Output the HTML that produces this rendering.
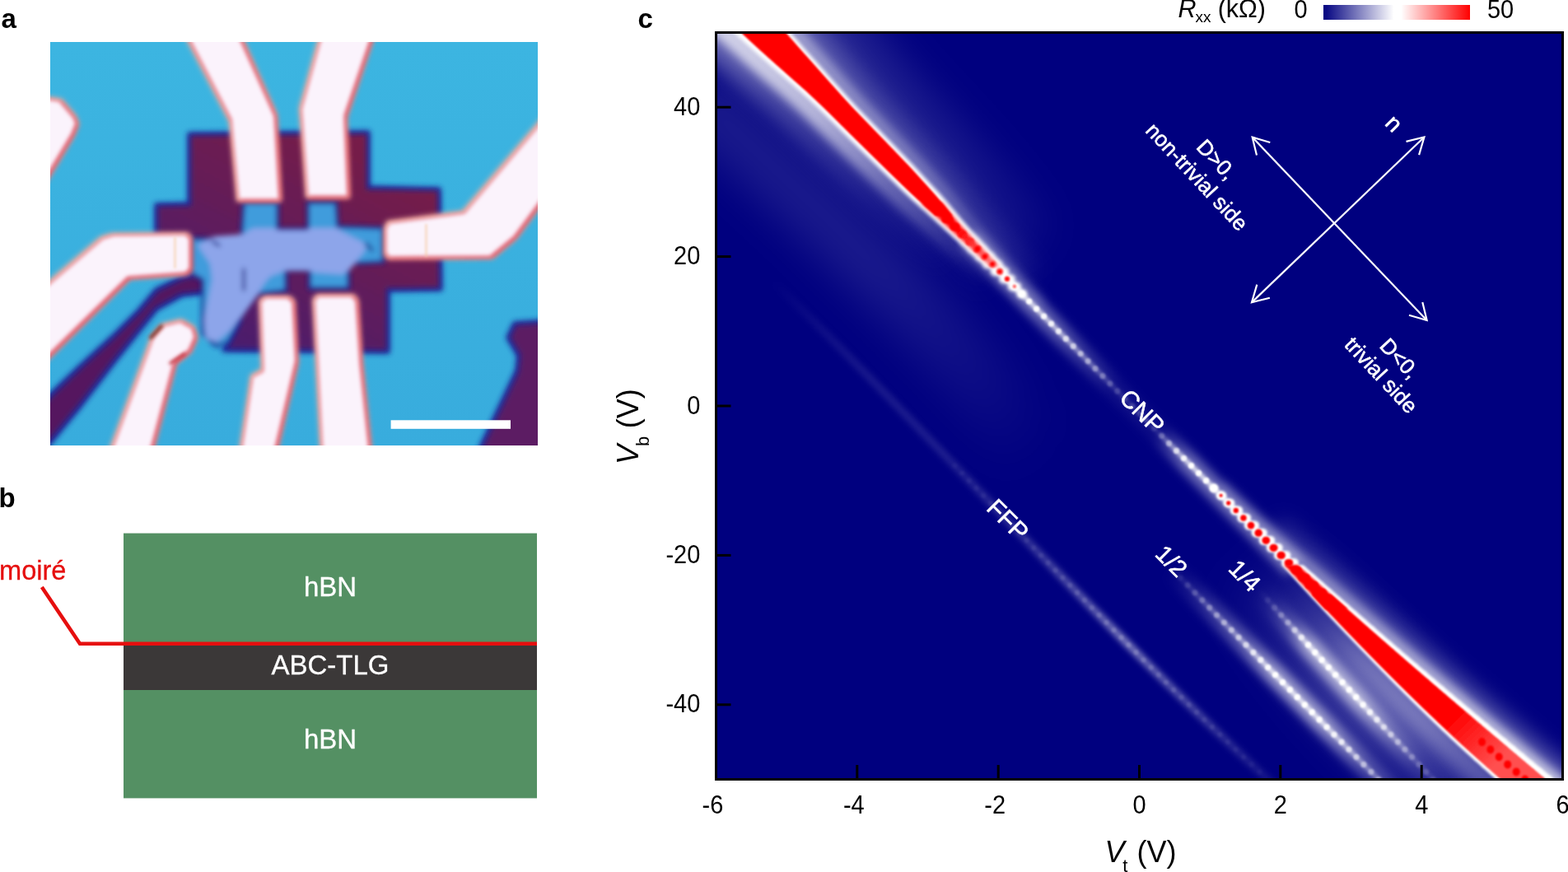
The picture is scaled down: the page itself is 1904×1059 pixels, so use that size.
<!DOCTYPE html>
<html lang="en"><head><meta charset="utf-8"><title>Figure</title>
<style>
html,body{margin:0;padding:0;background:#ffffff;}
body{width:1904px;height:1059px;overflow:hidden;position:relative;font-family:"Liberation Sans",Arial,Helvetica,sans-serif;}
svg{position:absolute;left:0;top:0;display:block;}
text{font-family:"Liberation Sans",Arial,Helvetica,sans-serif;}
.lab{font-weight:bold;font-size:33px;fill:#000;}
.tick{font-size:30.5px;fill:#000;}
.ax{font-size:36px;fill:#000;}
.w{fill:#fff;stroke:#fff;stroke-width:0.55px;text-anchor:middle;}
.s{font-size:33px;fill:#fff;stroke:#fff;stroke-width:0.3px;text-anchor:middle;}
</style></head>
<body>
<svg width="1904" height="1059" viewBox="0 0 1904 1059">
<defs>
<clipPath id="pc"><rect x="61" y="51" width="592" height="490"/></clipPath>
<clipPath id="hc"><rect x="870" y="40" width="1028" height="907"/></clipPath>
<filter id="b1" filterUnits="userSpaceOnUse" x="0" y="0" width="1904" height="1059"><feGaussianBlur stdDeviation="1"/></filter>
<filter id="b07" filterUnits="userSpaceOnUse" x="0" y="0" width="1904" height="1059"><feGaussianBlur stdDeviation="0.7"/></filter>
<filter id="b15" filterUnits="userSpaceOnUse" x="0" y="0" width="1904" height="1059"><feGaussianBlur stdDeviation="1.5"/></filter>
<filter id="b2" filterUnits="userSpaceOnUse" x="0" y="0" width="1904" height="1059"><feGaussianBlur stdDeviation="2.2"/></filter>
<filter id="b3" filterUnits="userSpaceOnUse" x="0" y="0" width="1904" height="1059"><feGaussianBlur stdDeviation="3.5"/></filter>
<filter id="b6" filterUnits="userSpaceOnUse" x="0" y="0" width="1904" height="1059"><feGaussianBlur stdDeviation="6"/></filter>
<filter id="b12" filterUnits="userSpaceOnUse" x="0" y="0" width="1904" height="1059"><feGaussianBlur stdDeviation="12"/></filter>
<filter id="b25" filterUnits="userSpaceOnUse" x="0" y="0" width="1904" height="1059"><feGaussianBlur stdDeviation="25"/></filter>
<linearGradient id="cb" x1="0" y1="0" x2="1" y2="0">
<stop offset="0" stop-color="#00007f"/><stop offset="0.48" stop-color="#ffffff"/><stop offset="0.53" stop-color="#ffffff"/><stop offset="1" stop-color="#ff0000"/>
</linearGradient>
</defs>

<text class="lab" x="1.5" y="33.8">a</text>
<text class="lab" x="-1.5" y="616">b</text>
<text class="lab" x="774.5" y="34">c</text>
<filter id="fE" filterUnits="userSpaceOnUse" x="0" y="0" width="720" height="600"><feMorphology operator="erode" radius="2.6"/><feGaussianBlur stdDeviation="2.6"/></filter>
<filter id="fP" filterUnits="userSpaceOnUse" x="0" y="0" width="720" height="600"><feGaussianBlur stdDeviation="3.3"/></filter>
<filter id="fQ" filterUnits="userSpaceOnUse" x="0" y="0" width="720" height="600"><feMorphology operator="erode" radius="2.4"/><feGaussianBlur stdDeviation="3.3"/></filter>
<linearGradient id="gP" gradientUnits="userSpaceOnUse" x1="420" y1="160" x2="280" y2="430"><stop offset="0" stop-color="#781b48"/><stop offset="0.5" stop-color="#631a5a"/><stop offset="1" stop-color="#4a1a70"/></linearGradient>
<linearGradient id="gBG" gradientUnits="userSpaceOnUse" x1="0" y1="51" x2="0" y2="541"><stop offset="0" stop-color="#3cb5e1"/><stop offset="1" stop-color="#38acdd"/></linearGradient>
<g clip-path="url(#pc)">
<rect x="61" y="51" width="592" height="490" fill="url(#gBG)"/>
<g filter="url(#fP)" fill="#1f2a9a" stroke="#1f2a9a" stroke-width="6" stroke-linejoin="round">
<polygon points="230.0,163.0 447.0,161.0 447.0,228.0 533.0,230.0 535.0,351.0 471.0,352.0 471.0,427.0 272.0,425.0 290.0,390.0 250.0,350.0 190.0,300.0 190.0,249.0 230.0,248.0"/>
<polygon points="45.0,497.0 61.0,480.0 96.5,446.0 138.0,408.0 169.0,377.0 190.0,352.0 221.0,337.0 254.0,332.0 258.0,354.0 221.0,358.0 190.0,375.0 169.0,401.0 138.0,440.0 96.5,494.0 61.0,537.0 45.0,556.0"/>
<polygon points="670.0,390.0 625.0,393.0 617.0,410.0 630.0,432.0 628.0,450.0 585.0,541.0 580.0,560.0 670.0,560.0"/>
</g>
<g filter="url(#fQ)">
<polygon points="230.0,163.0 447.0,161.0 447.0,228.0 533.0,230.0 535.0,351.0 471.0,352.0 471.0,427.0 272.0,425.0 290.0,390.0 250.0,350.0 190.0,300.0 190.0,249.0 230.0,248.0" fill="url(#gP)"/>
<polygon points="45.0,497.0 61.0,480.0 96.5,446.0 138.0,408.0 169.0,377.0 190.0,352.0 221.0,337.0 254.0,332.0 258.0,354.0 221.0,358.0 190.0,375.0 169.0,401.0 138.0,440.0 96.5,494.0 61.0,537.0 45.0,556.0" fill="#55195f"/>
<polygon points="670.0,390.0 625.0,393.0 617.0,410.0 630.0,432.0 628.0,450.0 585.0,541.0 580.0,560.0 670.0,560.0" fill="#5c1a64"/>
</g>
<g filter="url(#fP)">
<polygon points="296.0,246.0 337.0,246.0 337.0,278.0 374.0,278.0 374.0,246.0 408.0,246.0 410.0,275.0 465.0,277.0 465.0,318.0 423.0,320.0 423.0,350.0 376.0,350.0 376.0,328.0 347.0,328.0 347.0,353.0 312.0,357.0 298.0,376.0 276.0,416.0 262.0,420.0 246.0,405.0 246.0,340.0 232.0,332.0 232.0,290.0 293.0,290.0" fill="#3f9cdc" stroke="#1f2a9a" stroke-width="4"/>
<polygon points="241.4,297.9 261.0,288.0 295.4,285.6 307.7,278.2 332.0,278.0 337.0,280.7 374.0,280.7 376.5,278.0 408.4,278.0 415.8,283.0 440.3,295.4 442.8,302.8 425.6,324.9 415.8,332.3 381.4,329.8 376.5,327.3 347.0,327.3 327.3,334.7 317.5,347.0 312.6,356.8 297.9,376.5 278.2,401.0 263.5,413.3 251.2,410.9 248.8,388.8 253.7,364.4 258.6,339.6 256.1,320.0" fill="#8da5ea" stroke="#8da5ea" stroke-width="2" stroke-linejoin="round"/>
<path d="M296 327 L296 352 M445 296 L452 304 M258 293 L266 298" stroke="#1a2a8a" stroke-width="3.5" fill="none" stroke-linecap="round"/>
</g>
<g filter="url(#fP)" fill="#f3b9a6">
<polygon points="222.0,40.0 292.0,40.0 336.0,138.0 342.0,245.0 287.0,245.0 278.0,148.0"/>
<polygon points="388.0,40.0 456.0,40.0 421.0,143.0 425.0,241.0 371.0,241.0 363.0,131.0"/>
<polygon points="670.0,128.0 561.0,256.0 470.0,268.0 466.0,275.0 466.0,310.0 470.0,315.0 598.0,314.0 627.0,290.0 670.0,232.0"/>
<polygon points="50.0,348.0 122.0,287.0 135.0,283.0 228.0,282.0 233.0,287.0 233.0,329.0 228.0,334.0 158.0,339.0 50.0,445.0"/>
<polygon points="129.0,555.0 183.0,408.0 196.0,393.0 220.0,387.0 236.0,396.0 240.0,410.0 232.0,428.0 214.0,442.0 184.0,555.0"/>
<polygon points="314.0,364.0 320.0,359.0 352.0,359.0 358.0,364.0 362.0,440.0 335.0,555.0 289.0,555.0 304.0,455.0 317.0,448.0"/>
<polygon points="379.0,363.0 384.0,357.0 430.0,357.0 435.0,363.0 440.0,440.0 452.0,555.0 389.0,555.0 383.0,440.0"/>
<polygon points="50.0,116.0 75.0,120.0 92.0,140.0 96.0,150.0 90.0,165.0 50.0,232.0"/>
</g>
<g filter="url(#fQ)" fill="#d9364c" transform="translate(1.6,1.2)">
<polygon points="222.0,40.0 292.0,40.0 336.0,138.0 342.0,245.0 287.0,245.0 278.0,148.0"/>
<polygon points="388.0,40.0 456.0,40.0 421.0,143.0 425.0,241.0 371.0,241.0 363.0,131.0"/>
<polygon points="670.0,128.0 561.0,256.0 470.0,268.0 466.0,275.0 466.0,310.0 470.0,315.0 598.0,314.0 627.0,290.0 670.0,232.0"/>
<polygon points="50.0,348.0 122.0,287.0 135.0,283.0 228.0,282.0 233.0,287.0 233.0,329.0 228.0,334.0 158.0,339.0 50.0,445.0"/>
<polygon points="129.0,555.0 183.0,408.0 196.0,393.0 220.0,387.0 236.0,396.0 240.0,410.0 232.0,428.0 214.0,442.0 184.0,555.0"/>
<polygon points="314.0,364.0 320.0,359.0 352.0,359.0 358.0,364.0 362.0,440.0 335.0,555.0 289.0,555.0 304.0,455.0 317.0,448.0"/>
<polygon points="379.0,363.0 384.0,357.0 430.0,357.0 435.0,363.0 440.0,440.0 452.0,555.0 389.0,555.0 383.0,440.0"/>
<polygon points="50.0,116.0 75.0,120.0 92.0,140.0 96.0,150.0 90.0,165.0 50.0,232.0"/>
</g>
<g filter="url(#fE)" fill="#fbf3fc">
<polygon points="222.0,40.0 292.0,40.0 336.0,138.0 342.0,245.0 287.0,245.0 278.0,148.0"/>
<polygon points="388.0,40.0 456.0,40.0 421.0,143.0 425.0,241.0 371.0,241.0 363.0,131.0"/>
<polygon points="670.0,128.0 561.0,256.0 470.0,268.0 466.0,275.0 466.0,310.0 470.0,315.0 598.0,314.0 627.0,290.0 670.0,232.0"/>
<polygon points="50.0,348.0 122.0,287.0 135.0,283.0 228.0,282.0 233.0,287.0 233.0,329.0 228.0,334.0 158.0,339.0 50.0,445.0"/>
<polygon points="129.0,555.0 183.0,408.0 196.0,393.0 220.0,387.0 236.0,396.0 240.0,410.0 232.0,428.0 214.0,442.0 184.0,555.0"/>
<polygon points="314.0,364.0 320.0,359.0 352.0,359.0 358.0,364.0 362.0,440.0 335.0,555.0 289.0,555.0 304.0,455.0 317.0,448.0"/>
<polygon points="379.0,363.0 384.0,357.0 430.0,357.0 435.0,363.0 440.0,440.0 452.0,555.0 389.0,555.0 383.0,440.0"/>
<polygon points="50.0,116.0 75.0,120.0 92.0,140.0 96.0,150.0 90.0,165.0 50.0,232.0"/>
</g>
<path d="M517.5 272 L517.5 312 M212.5 288 L212.5 326" stroke="#f3c79a" stroke-width="2.2" stroke-opacity="0.7" fill="none" filter="url(#b15)"/>
<path d="M207 441 L224 430" stroke="#c2303c" stroke-width="3.5" fill="none" stroke-linecap="round" filter="url(#b2)"/><path d="M183 410 L196 396" stroke="#7a2a20" stroke-width="4" fill="none" stroke-linecap="round" filter="url(#b2)"/>
<rect x="474.6" y="510.3" width="145.4" height="10.5" fill="#ffffff"/>
</g>
<rect x="150" y="647.6" width="502" height="135" fill="#549063"/>
<rect x="150" y="838" width="502" height="131.4" fill="#549063"/>
<rect x="150" y="783.5" width="502" height="54.5" fill="#3b3838"/>
<polyline points="50.8,713 97,781.7 652,781.7" fill="none" stroke="#e60f0f" stroke-width="4.5" stroke-linejoin="miter"/>
<text class="s" x="401" y="724">hBN</text>
<text class="s" x="401" y="819.3">ABC-TLG</text>
<text class="s" x="401" y="909">hBN</text>
<text x="-1" y="704" font-size="32.6" fill="#e60f0f" stroke="#e60f0f" stroke-width="0.3">moiré</text>
<rect x="869.5" y="39.5" width="1028" height="907" fill="#00007f"/>
<g clip-path="url(#hc)">
<linearGradient id="gUL" gradientUnits="userSpaceOnUse" x1="879" y1="20" x2="1210" y2="330"><stop offset="0.000" stop-color="#fff" stop-opacity="0.74"/><stop offset="0.129" stop-color="#fff" stop-opacity="0.72"/><stop offset="0.360" stop-color="#fff" stop-opacity="0.62"/><stop offset="0.516" stop-color="#fff" stop-opacity="0.46"/><stop offset="0.643" stop-color="#fff" stop-opacity="0.3"/><stop offset="0.806" stop-color="#fff" stop-opacity="0.15"/><stop offset="1.000" stop-color="#fff" stop-opacity="0.0"/></linearGradient>
<linearGradient id="gUL2" gradientUnits="userSpaceOnUse" x1="879" y1="20" x2="1177" y2="300"><stop offset="0.000" stop-color="#fff" stop-opacity="0.42"/><stop offset="0.217" stop-color="#fff" stop-opacity="0.32"/><stop offset="0.468" stop-color="#fff" stop-opacity="0.2"/><stop offset="0.712" stop-color="#fff" stop-opacity="0.1"/><stop offset="1.000" stop-color="#fff" stop-opacity="0.0"/></linearGradient>
<linearGradient id="gUR" gradientUnits="userSpaceOnUse" x1="937" y1="20" x2="1236" y2="350"><stop offset="0.000" stop-color="#fff" stop-opacity="0.5"/><stop offset="0.331" stop-color="#fff" stop-opacity="0.38"/><stop offset="0.610" stop-color="#fff" stop-opacity="0.3"/><stop offset="0.849" stop-color="#fff" stop-opacity="0.2"/><stop offset="1.000" stop-color="#fff" stop-opacity="0.08"/></linearGradient>
<linearGradient id="gLH" gradientUnits="userSpaceOnUse" x1="1481" y1="600" x2="1866" y2="960"><stop offset="0.000" stop-color="#fff" stop-opacity="0.15"/><stop offset="0.270" stop-color="#fff" stop-opacity="0.4"/><stop offset="0.502" stop-color="#fff" stop-opacity="0.5"/><stop offset="0.712" stop-color="#fff" stop-opacity="0.6"/><stop offset="1.000" stop-color="#fff" stop-opacity="0.7"/></linearGradient>
<linearGradient id="gLL" gradientUnits="userSpaceOnUse" x1="1572" y1="690" x2="1866" y2="960"><stop offset="0.000" stop-color="#fff" stop-opacity="0"/><stop offset="0.180" stop-color="#fff" stop-opacity="0.1"/><stop offset="0.343" stop-color="#fff" stop-opacity="0.3"/><stop offset="0.620" stop-color="#fff" stop-opacity="0.4"/><stop offset="0.884" stop-color="#fff" stop-opacity="0.3"/><stop offset="1.000" stop-color="#fff" stop-opacity="0.25"/></linearGradient>
<linearGradient id="gLB" gradientUnits="userSpaceOnUse" x1="1505" y1="690" x2="1753" y2="960"><stop offset="0.000" stop-color="#fff" stop-opacity="0"/><stop offset="0.256" stop-color="#fff" stop-opacity="0.12"/><stop offset="0.477" stop-color="#fff" stop-opacity="0.24"/><stop offset="0.663" stop-color="#fff" stop-opacity="0.26"/><stop offset="0.850" stop-color="#fff" stop-opacity="0.16"/><stop offset="1.000" stop-color="#fff" stop-opacity="0.1"/></linearGradient>
<linearGradient id="gF" gradientUnits="userSpaceOnUse" x1="937" y1="340" x2="1554" y2="960"><stop offset="0.000" stop-color="#fff" stop-opacity="0"/><stop offset="0.098" stop-color="#fff" stop-opacity="0.06"/><stop offset="0.188" stop-color="#fff" stop-opacity="0.1"/><stop offset="0.376" stop-color="#fff" stop-opacity="0.13"/><stop offset="0.510" stop-color="#fff" stop-opacity="0.2"/><stop offset="0.639" stop-color="#fff" stop-opacity="0.38"/><stop offset="0.704" stop-color="#fff" stop-opacity="0.5"/><stop offset="0.768" stop-color="#fff" stop-opacity="0.38"/><stop offset="0.900" stop-color="#fff" stop-opacity="0.17"/><stop offset="1.000" stop-color="#fff" stop-opacity="0.06"/></linearGradient>
<linearGradient id="gH" gradientUnits="userSpaceOnUse" x1="1422" y1="690" x2="1687" y2="960"><stop offset="0.000" stop-color="#fff" stop-opacity="0"/><stop offset="0.092" stop-color="#fff" stop-opacity="0.15"/><stop offset="0.336" stop-color="#fff" stop-opacity="0.6"/><stop offset="0.473" stop-color="#fff" stop-opacity="1"/><stop offset="0.677" stop-color="#fff" stop-opacity="1"/><stop offset="0.777" stop-color="#fff" stop-opacity="0.75"/><stop offset="0.888" stop-color="#fff" stop-opacity="0.45"/><stop offset="1.000" stop-color="#fff" stop-opacity="0.3"/></linearGradient>
<linearGradient id="gQ" gradientUnits="userSpaceOnUse" x1="1527" y1="715" x2="1753" y2="960"><stop offset="0.000" stop-color="#fff" stop-opacity="0"/><stop offset="0.072" stop-color="#fff" stop-opacity="0.1"/><stop offset="0.181" stop-color="#fff" stop-opacity="0.4"/><stop offset="0.283" stop-color="#fff" stop-opacity="1"/><stop offset="0.547" stop-color="#fff" stop-opacity="1"/><stop offset="0.715" stop-color="#fff" stop-opacity="0.5"/><stop offset="0.876" stop-color="#fff" stop-opacity="0.15"/><stop offset="1.000" stop-color="#fff" stop-opacity="0.08"/></linearGradient>
<linearGradient id="gC" gradientUnits="userSpaceOnUse" x1="1185" y1="300" x2="1561" y2="680"><stop offset="0.000" stop-color="#fff" stop-opacity="1"/><stop offset="0.170" stop-color="#fff" stop-opacity="1"/><stop offset="0.262" stop-color="#fff" stop-opacity="0.8"/><stop offset="0.341" stop-color="#fff" stop-opacity="0.5"/><stop offset="0.393" stop-color="#fff" stop-opacity="0.35"/><stop offset="0.451" stop-color="#fff" stop-opacity="0.15"/><stop offset="0.590" stop-color="#fff" stop-opacity="0.12"/><stop offset="0.616" stop-color="#fff" stop-opacity="0.4"/><stop offset="0.651" stop-color="#fff" stop-opacity="0.7"/><stop offset="0.688" stop-color="#fff" stop-opacity="1"/><stop offset="1.000" stop-color="#fff" stop-opacity="1"/></linearGradient>
<linearGradient id="gB1" gradientUnits="userSpaceOnUse" x1="860" y1="130" x2="1260" y2="560"><stop offset="0" stop-color="#fff" stop-opacity="0.1"/><stop offset="0.5" stop-color="#fff" stop-opacity="0.1"/><stop offset="0.8" stop-color="#fff" stop-opacity="0.05"/><stop offset="1" stop-color="#fff" stop-opacity="0"/></linearGradient>
<path d="M840.0 110.0 L1000.0 260.0 L1100.0 360.0 L1180.0 450.0 L1260.0 560.0" fill="none" stroke="url(#gB1)" stroke-width="80" stroke-linecap="butt" stroke-linejoin="round" filter="url(#b25)"/>
<linearGradient id="gB2" gradientUnits="userSpaceOnUse" x1="940" y1="60" x2="1210" y2="360"><stop offset="0" stop-color="#fff" stop-opacity="0.1"/><stop offset="0.6" stop-color="#fff" stop-opacity="0.08"/><stop offset="1" stop-color="#fff" stop-opacity="0"/></linearGradient>
<path d="M940.0 60.0 L1080.0 200.0 L1160.0 300.0 L1210.0 360.0" fill="none" stroke="url(#gB2)" stroke-width="40" stroke-linecap="butt" stroke-linejoin="round" filter="url(#b12)"/>
<path d="M842.7 0.0 L855.4 12.0 L868.2 24.0 L880.9 36.0 L893.8 48.0 L906.8 60.0 L920.1 72.0 L933.6 84.0 L947.2 96.0 L960.7 108.0 L973.7 120.0 L986.2 132.0 L998.4 144.0 L1010.5 156.0 L1022.6 168.0 L1034.8 180.0 L1047.0 192.0 L1059.2 204.0 L1071.5 216.0 L1084.0 228.0 L1096.6 240.0 L1109.9 252.0 L1123.4 264.0 L1136.5 276.0 L1149.4 288.0 L1162.2 300.0 L1175.0 312.0 L1188.0 324.0 L1201.1 336.0 L1214.5 348.0 L1216.7 350.0" fill="none" stroke="url(#gUL)" stroke-width="28" stroke-linecap="butt" stroke-linejoin="round" filter="url(#b6)"/>
<path d="M819.7 0.0 L832.4 12.0 L845.2 24.0 L857.9 36.0 L870.8 48.0 L883.8 60.0 L897.1 72.0 L910.6 84.0 L924.2 96.0 L937.7 108.0 L950.7 120.0 L963.2 132.0 L975.4 144.0 L987.5 156.0 L999.6 168.0 L1011.8 180.0 L1024.0 192.0 L1036.2 204.0 L1048.5 216.0 L1061.0 228.0 L1073.6 240.0 L1086.9 252.0 L1100.4 264.0 L1113.5 276.0 L1126.4 288.0 L1139.2 300.0 L1152.0 312.0 L1160.7 320.0" fill="none" stroke="url(#gUL2)" stroke-width="44" stroke-linecap="butt" stroke-linejoin="round" filter="url(#b12)"/>
<path d="M929.4 0.0 L939.9 12.0 L950.4 24.0 L961.0 36.0 L971.6 48.0 L982.1 60.0 L992.9 72.0 L1003.6 84.0 L1014.2 96.0 L1024.9 108.0 L1035.7 120.0 L1046.8 132.0 L1058.4 144.0 L1070.0 156.0 L1081.6 168.0 L1093.2 180.0 L1104.7 192.0 L1116.1 204.0 L1127.1 216.0 L1138.0 228.0 L1148.7 240.0 L1158.5 252.0 L1168.2 264.0 L1178.4 276.0 L1189.7 288.0 L1201.2 300.0 L1212.7 312.0 L1223.7 324.0 L1234.3 336.0 L1244.5 348.0 L1254.5 360.0 L1262.8 370.0" fill="none" stroke="url(#gUR)" stroke-width="20" stroke-linecap="butt" stroke-linejoin="round" filter="url(#b6)"/>
<path d="M943.4 0.0 L953.9 12.0 L964.4 24.0 L975.0 36.0 L985.6 48.0 L996.1 60.0 L1006.9 72.0 L1017.6 84.0 L1028.2 96.0 L1038.9 108.0 L1049.7 120.0 L1060.8 132.0 L1072.4 144.0 L1084.0 156.0 L1095.6 168.0 L1107.2 180.0 L1118.7 192.0 L1130.1 204.0 L1141.1 216.0 L1152.0 228.0 L1162.7 240.0 L1172.5 252.0 L1182.2 264.0 L1192.4 276.0 L1203.7 288.0 L1215.2 300.0 L1226.7 312.0 L1237.7 324.0 L1248.3 336.0 L1251.7 340.0" fill="none" stroke="url(#gUR)" stroke-width="36" stroke-linecap="butt" stroke-linejoin="round" stroke-opacity="0.6" filter="url(#b12)"/>
<path d="M962.0 -20.0 L972.4 -8.0 L982.9 4.0 L993.4 16.0 L1003.9 28.0 L1014.6 40.0 L1025.1 52.0 L1035.7 64.0 L1046.5 76.0 L1057.1 88.0 L1067.7 100.0 L1078.5 112.0 L1089.3 124.0 L1100.6 136.0 L1112.2 148.0 L1123.9 160.0 L1135.5 172.0 L1147.0 184.0 L1158.6 196.0 L1169.8 208.0 L1180.7 220.0 L1191.6 232.0 L1202.1 244.0 L1211.8 256.0 L1221.5 268.0 L1232.1 280.0 L1243.5 292.0 L1251.2 300.0" fill="none" stroke="url(#gUR)" stroke-width="70" stroke-linecap="butt" stroke-linejoin="round" stroke-opacity="0.35" filter="url(#b25)"/>
<path d="M1481.4 590.0 L1494.2 602.0 L1506.9 614.0 L1519.8 626.0 L1532.6 638.0 L1545.5 650.0 L1558.5 662.0 L1571.4 674.0 L1584.7 686.0 L1598.1 698.0 L1611.6 710.0 L1625.2 722.0 L1638.8 734.0 L1652.4 746.0 L1666.0 758.0 L1679.7 770.0 L1693.4 782.0 L1707.2 794.0 L1721.0 806.0 L1734.9 818.0 L1748.8 830.0 L1762.8 842.0 L1776.8 854.0 L1790.9 866.0 L1805.0 878.0 L1819.2 890.0 L1833.5 902.0 L1847.6 914.0 L1861.8 926.0 L1876.1 938.0 L1890.5 950.0 L1905.0 962.0 L1919.5 974.0 L1934.3 986.0 L1939.2 990.0" fill="none" stroke="url(#gLH)" stroke-width="18" stroke-linecap="butt" stroke-linejoin="round" filter="url(#b6)"/>
<path d="M1547.8 640.0 L1560.7 652.0 L1573.6 664.0 L1586.6 676.0 L1599.9 688.0 L1613.4 700.0 L1626.9 712.0 L1640.4 724.0 L1654.1 736.0 L1667.7 748.0 L1681.3 760.0 L1694.9 772.0 L1708.7 784.0 L1722.5 796.0 L1736.3 808.0 L1750.2 820.0 L1764.1 832.0 L1778.1 844.0 L1792.2 856.0 L1806.3 868.0 L1820.4 880.0 L1834.6 892.0 L1848.8 904.0 L1863.0 916.0 L1877.2 928.0 L1891.5 940.0 L1905.9 952.0 L1920.4 964.0 L1935.0 976.0 L1949.7 988.0 L1952.2 990.0" fill="none" stroke="url(#gLH)" stroke-width="30" stroke-linecap="butt" stroke-linejoin="round" stroke-opacity="0.5" filter="url(#b12)"/>
<path d="M1536.9 680.0 L1548.0 692.0 L1559.1 704.0 L1570.2 716.0 L1581.4 728.0 L1592.6 740.0 L1604.1 752.0 L1615.5 764.0 L1627.1 776.0 L1638.8 788.0 L1650.5 800.0 L1662.3 812.0 L1674.3 824.0 L1686.4 836.0 L1698.6 848.0 L1710.9 860.0 L1723.5 872.0 L1736.1 884.0 L1748.9 896.0 L1762.0 908.0 L1775.3 920.0 L1788.8 932.0 L1802.4 944.0 L1816.3 956.0 L1830.3 968.0 L1844.5 980.0 L1856.4 990.0" fill="none" stroke="url(#gLL)" stroke-width="34" stroke-linecap="butt" stroke-linejoin="round" filter="url(#b12)"/>
<path d="M1507.2 670.0 L1517.8 682.0 L1528.4 694.0 L1539.1 706.0 L1549.8 718.0 L1560.5 730.0 L1571.2 742.0 L1582.0 754.0 L1592.9 766.0 L1603.7 778.0 L1614.7 790.0 L1625.6 802.0 L1636.6 814.0 L1647.6 826.0 L1658.6 838.0 L1669.7 850.0 L1680.9 862.0 L1692.0 874.0 L1703.2 886.0 L1714.5 898.0 L1725.7 910.0 L1737.1 922.0 L1748.4 934.0 L1759.8 946.0 L1771.2 958.0 L1782.7 970.0 L1794.2 982.0 L1801.9 990.0" fill="none" stroke="url(#gLB)" stroke-width="110" stroke-linecap="butt" stroke-linejoin="round" filter="url(#b25)"/>
<path d="M926.7 330.0 L932.9 336.0 L939.0 342.0 L945.2 348.0 L951.3 354.0 L957.4 360.0 L963.5 366.0 L969.6 372.0 L975.7 378.0 L981.7 384.0 L987.8 390.0 L993.8 396.0 L999.8 402.0 L1005.8 408.0 L1011.7 414.0 L1017.7 420.0 L1023.7 426.0 L1029.6 432.0 L1035.5 438.0 L1041.4 444.0 L1047.3 450.0 L1053.2 456.0 L1059.1 462.0 L1065.0 468.0 L1070.8 474.0 L1076.7 480.0 L1082.5 486.0 L1088.4 492.0 L1094.2 498.0 L1100.0 504.0 L1105.8 510.0 L1111.6 516.0 L1117.4 522.0 L1123.2 528.0 L1129.0 534.0 L1134.8 540.0 L1140.6 546.0 L1146.4 552.0 L1152.1 558.0 L1157.9 564.0 L1163.7 570.0 L1169.4 576.0 L1175.2 582.0 L1181.0 588.0 L1186.7 594.0 L1192.5 600.0 L1198.2 606.0 L1204.0 612.0 L1209.8 618.0 L1215.5 624.0 L1221.3 630.0 L1227.1 636.0 L1232.8 642.0 L1238.6 648.0 L1244.4 654.0 L1250.2 660.0 L1256.0 666.0 L1261.8 672.0 L1267.5 678.0 L1273.3 684.0 L1279.2 690.0 L1285.0 696.0 L1290.8 702.0 L1296.6 708.0 L1302.5 714.0 L1308.3 720.0 L1314.2 726.0 L1320.0 732.0 L1325.9 738.0 L1331.8 744.0 L1337.7 750.0 L1343.6 756.0 L1349.5 762.0 L1355.4 768.0 L1361.4 774.0 L1367.3 780.0 L1373.3 786.0 L1379.3 792.0 L1385.2 798.0 L1391.3 804.0 L1397.3 810.0 L1403.3 816.0 L1409.4 822.0 L1415.4 828.0 L1421.5 834.0 L1427.6 840.0 L1433.7 846.0 L1439.9 852.0 L1446.0 858.0 L1452.2 864.0 L1458.4 870.0 L1464.6 876.0 L1470.9 882.0 L1477.1 888.0 L1483.4 894.0 L1489.7 900.0 L1496.0 906.0 L1502.3 912.0 L1508.7 918.0 L1515.1 924.0 L1521.5 930.0 L1527.9 936.0 L1534.4 942.0 L1540.9 948.0 L1547.4 954.0 L1553.9 960.0 L1560.5 966.0 L1567.1 972.0 L1573.7 978.0 L1580.3 984.0 L1587.0 990.0" fill="none" stroke="url(#gF)" stroke-width="9" stroke-linecap="butt" stroke-linejoin="round" filter="url(#b3)"/>
<g filter="url(#b1)" fill="#fff"><circle cx="1159.4" cy="565.6" r="3.2" fill-opacity="0.04"/><circle cx="1168.1" cy="574.6" r="3.2" fill-opacity="0.05"/><circle cx="1176.8" cy="583.7" r="3.2" fill-opacity="0.05"/><circle cx="1185.5" cy="592.8" r="3.2" fill-opacity="0.05"/><circle cx="1194.2" cy="601.8" r="3.2" fill-opacity="0.05"/><circle cx="1203.0" cy="610.9" r="3.2" fill-opacity="0.06"/><circle cx="1211.7" cy="620.0" r="3.2" fill-opacity="0.06"/><circle cx="1220.4" cy="629.1" r="3.2" fill-opacity="0.06"/><circle cx="1229.1" cy="638.1" r="3.2" fill-opacity="0.06"/><circle cx="1237.8" cy="647.2" r="3.2" fill-opacity="0.07"/><circle cx="1246.6" cy="656.3" r="3.2" fill-opacity="0.07"/><circle cx="1255.3" cy="665.3" r="3.2" fill-opacity="0.07"/><circle cx="1264.1" cy="674.4" r="3.2" fill-opacity="0.08"/><circle cx="1272.8" cy="683.5" r="3.2" fill-opacity="0.09"/><circle cx="1281.6" cy="692.5" r="3.2" fill-opacity="0.10"/><circle cx="1290.4" cy="701.6" r="3.2" fill-opacity="0.10"/><circle cx="1299.2" cy="710.7" r="3.2" fill-opacity="0.11"/><circle cx="1308.1" cy="719.8" r="3.2" fill-opacity="0.12"/><circle cx="1316.9" cy="728.8" r="3.2" fill-opacity="0.12"/><circle cx="1325.8" cy="737.9" r="3.2" fill-opacity="0.13"/><circle cx="1334.7" cy="747.0" r="3.2" fill-opacity="0.14"/><circle cx="1343.6" cy="756.0" r="3.2" fill-opacity="0.15"/><circle cx="1352.6" cy="765.1" r="3.2" fill-opacity="0.16"/><circle cx="1361.5" cy="774.2" r="3.2" fill-opacity="0.17"/><circle cx="1370.5" cy="783.2" r="3.2" fill-opacity="0.17"/><circle cx="1379.6" cy="792.3" r="3.2" fill-opacity="0.16"/><circle cx="1388.6" cy="801.4" r="3.2" fill-opacity="0.15"/><circle cx="1397.7" cy="810.5" r="3.2" fill-opacity="0.14"/><circle cx="1406.9" cy="819.5" r="3.2" fill-opacity="0.13"/><circle cx="1416.0" cy="828.6" r="3.2" fill-opacity="0.13"/><circle cx="1425.2" cy="837.7" r="3.2" fill-opacity="0.12"/><circle cx="1434.5" cy="846.7" r="3.2" fill-opacity="0.11"/><circle cx="1443.8" cy="855.8" r="3.2" fill-opacity="0.10"/><circle cx="1453.1" cy="864.9" r="3.2" fill-opacity="0.09"/><circle cx="1462.5" cy="873.9" r="3.2" fill-opacity="0.08"/><circle cx="1471.9" cy="883.0" r="3.2" fill-opacity="0.08"/><circle cx="1481.4" cy="892.1" r="3.2" fill-opacity="0.07"/><circle cx="1490.9" cy="901.1" r="3.2" fill-opacity="0.06"/><circle cx="1500.5" cy="910.2" r="3.2" fill-opacity="0.05"/><circle cx="1510.1" cy="919.3" r="3.2" fill-opacity="0.05"/><circle cx="1519.7" cy="928.4" r="3.2" fill-opacity="0.04"/><circle cx="1529.5" cy="937.4" r="3.2" fill-opacity="0.04"/></g>
<path d="M1412.4 680.0 L1418.2 686.0 L1424.0 692.0 L1429.8 698.0 L1435.7 704.0 L1441.5 710.0 L1447.4 716.0 L1453.2 722.0 L1459.0 728.0 L1464.9 734.0 L1470.7 740.0 L1476.6 746.0 L1482.5 752.0 L1488.3 758.0 L1494.2 764.0 L1500.1 770.0 L1505.9 776.0 L1511.8 782.0 L1517.7 788.0 L1523.5 794.0 L1529.4 800.0 L1535.3 806.0 L1541.2 812.0 L1547.1 818.0 L1553.0 824.0 L1558.9 830.0 L1564.8 836.0 L1570.7 842.0 L1576.6 848.0 L1582.5 854.0 L1588.4 860.0 L1594.3 866.0 L1600.2 872.0 L1606.1 878.0 L1612.1 884.0 L1618.0 890.0 L1623.9 896.0 L1629.8 902.0 L1635.8 908.0 L1641.7 914.0 L1647.7 920.0 L1653.6 926.0 L1659.5 932.0 L1665.5 938.0 L1671.4 944.0 L1677.4 950.0 L1683.3 956.0 L1689.3 962.0 L1695.3 968.0 L1701.2 974.0 L1707.2 980.0 L1713.2 986.0 L1717.2 990.0" fill="none" stroke="url(#gH)" stroke-width="26" stroke-linecap="butt" stroke-linejoin="round" stroke-opacity="0.55" filter="url(#b6)"/>
<path d="M1412.4 680.0 L1418.2 686.0 L1424.0 692.0 L1429.8 698.0 L1435.7 704.0 L1441.5 710.0 L1447.4 716.0 L1453.2 722.0 L1459.0 728.0 L1464.9 734.0 L1470.7 740.0 L1476.6 746.0 L1482.5 752.0 L1488.3 758.0 L1494.2 764.0 L1500.1 770.0 L1505.9 776.0 L1511.8 782.0 L1517.7 788.0 L1523.5 794.0 L1529.4 800.0 L1535.3 806.0 L1541.2 812.0 L1547.1 818.0 L1553.0 824.0 L1558.9 830.0 L1564.8 836.0 L1570.7 842.0 L1576.6 848.0 L1582.5 854.0 L1588.4 860.0 L1594.3 866.0 L1600.2 872.0 L1606.1 878.0 L1612.1 884.0 L1618.0 890.0 L1623.9 896.0 L1629.8 902.0 L1635.8 908.0 L1641.7 914.0 L1647.7 920.0 L1653.6 926.0 L1659.5 932.0 L1665.5 938.0 L1671.4 944.0 L1677.4 950.0 L1683.3 956.0 L1689.3 962.0 L1695.3 968.0 L1701.2 974.0 L1707.2 980.0 L1713.2 986.0 L1717.2 990.0" fill="none" stroke="url(#gH)" stroke-width="6" stroke-linecap="butt" stroke-linejoin="round" stroke-opacity="0.8" filter="url(#b2)"/>
<g filter="url(#b1)" fill="#fff"><circle cx="1433.3" cy="701.6" r="3.6" fill-opacity="0.07"/><circle cx="1442.2" cy="710.7" r="3.6" fill-opacity="0.12"/><circle cx="1451.0" cy="719.8" r="3.6" fill-opacity="0.18"/><circle cx="1459.8" cy="728.8" r="3.6" fill-opacity="0.24"/><circle cx="1468.7" cy="737.9" r="3.6" fill-opacity="0.31"/><circle cx="1477.5" cy="747.0" r="3.6" fill-opacity="0.37"/><circle cx="1486.4" cy="756.0" r="3.6" fill-opacity="0.43"/><circle cx="1495.3" cy="765.1" r="3.6" fill-opacity="0.49"/><circle cx="1504.1" cy="774.2" r="3.6" fill-opacity="0.55"/><circle cx="1513.0" cy="783.2" r="3.6" fill-opacity="0.62"/><circle cx="1521.9" cy="792.3" r="3.6" fill-opacity="0.72"/><circle cx="1530.8" cy="801.4" r="3.6" fill-opacity="0.82"/><circle cx="1539.7" cy="810.5" r="3.6" fill-opacity="0.92"/><circle cx="1548.6" cy="819.5" r="3.6" fill-opacity="1.00"/><circle cx="1557.5" cy="828.6" r="3.6" fill-opacity="1.00"/><circle cx="1566.4" cy="837.7" r="3.6" fill-opacity="1.00"/><circle cx="1575.3" cy="846.7" r="3.6" fill-opacity="1.00"/><circle cx="1584.3" cy="855.8" r="3.6" fill-opacity="1.00"/><circle cx="1593.2" cy="864.9" r="3.6" fill-opacity="1.00"/><circle cx="1602.1" cy="873.9" r="3.6" fill-opacity="0.99"/><circle cx="1611.1" cy="883.0" r="3.6" fill-opacity="0.91"/><circle cx="1620.0" cy="892.1" r="3.6" fill-opacity="0.82"/><circle cx="1629.0" cy="901.1" r="3.6" fill-opacity="0.74"/><circle cx="1638.0" cy="910.2" r="3.6" fill-opacity="0.65"/><circle cx="1647.0" cy="919.3" r="3.6" fill-opacity="0.56"/><circle cx="1655.9" cy="928.4" r="3.6" fill-opacity="0.47"/><circle cx="1664.9" cy="937.4" r="3.6" fill-opacity="0.41"/><circle cx="1673.9" cy="946.5" r="3.6" fill-opacity="0.37"/></g>
<path d="M1518.2 705.0 L1523.5 711.0 L1528.9 717.0 L1534.2 723.0 L1539.6 729.0 L1545.0 735.0 L1550.3 741.0 L1555.7 747.0 L1561.1 753.0 L1566.6 759.0 L1572.0 765.0 L1577.4 771.0 L1582.8 777.0 L1588.3 783.0 L1593.7 789.0 L1599.2 795.0 L1604.7 801.0 L1610.2 807.0 L1615.7 813.0 L1621.2 819.0 L1626.7 825.0 L1632.2 831.0 L1637.7 837.0 L1643.3 843.0 L1648.8 849.0 L1654.4 855.0 L1659.9 861.0 L1665.5 867.0 L1671.1 873.0 L1676.7 879.0 L1682.3 885.0 L1687.9 891.0 L1693.5 897.0 L1699.2 903.0 L1704.8 909.0 L1710.5 915.0 L1716.1 921.0 L1721.8 927.0 L1727.5 933.0 L1733.1 939.0 L1738.8 945.0 L1744.5 951.0 L1750.3 957.0 L1756.0 963.0 L1761.7 969.0 L1767.5 975.0 L1773.2 981.0 L1779.0 987.0 L1781.9 990.0" fill="none" stroke="url(#gQ)" stroke-width="26" stroke-linecap="butt" stroke-linejoin="round" stroke-opacity="0.55" filter="url(#b6)"/>
<path d="M1518.2 705.0 L1523.5 711.0 L1528.9 717.0 L1534.2 723.0 L1539.6 729.0 L1545.0 735.0 L1550.3 741.0 L1555.7 747.0 L1561.1 753.0 L1566.6 759.0 L1572.0 765.0 L1577.4 771.0 L1582.8 777.0 L1588.3 783.0 L1593.7 789.0 L1599.2 795.0 L1604.7 801.0 L1610.2 807.0 L1615.7 813.0 L1621.2 819.0 L1626.7 825.0 L1632.2 831.0 L1637.7 837.0 L1643.3 843.0 L1648.8 849.0 L1654.4 855.0 L1659.9 861.0 L1665.5 867.0 L1671.1 873.0 L1676.7 879.0 L1682.3 885.0 L1687.9 891.0 L1693.5 897.0 L1699.2 903.0 L1704.8 909.0 L1710.5 915.0 L1716.1 921.0 L1721.8 927.0 L1727.5 933.0 L1733.1 939.0 L1738.8 945.0 L1744.5 951.0 L1750.3 957.0 L1756.0 963.0 L1761.7 969.0 L1767.5 975.0 L1773.2 981.0 L1779.0 987.0 L1781.9 990.0" fill="none" stroke="url(#gQ)" stroke-width="6" stroke-linecap="butt" stroke-linejoin="round" stroke-opacity="0.8" filter="url(#b2)"/>
<g filter="url(#b1)" fill="#fff"><circle cx="1539.4" cy="728.8" r="3.6" fill-opacity="0.08"/><circle cx="1547.6" cy="737.9" r="3.6" fill-opacity="0.15"/><circle cx="1555.7" cy="747.0" r="3.6" fill-opacity="0.26"/><circle cx="1563.9" cy="756.0" r="3.6" fill-opacity="0.36"/><circle cx="1572.1" cy="765.1" r="3.6" fill-opacity="0.52"/><circle cx="1580.3" cy="774.2" r="3.6" fill-opacity="0.74"/><circle cx="1588.5" cy="783.2" r="3.6" fill-opacity="0.96"/><circle cx="1596.8" cy="792.3" r="3.6" fill-opacity="1.00"/><circle cx="1605.0" cy="801.4" r="3.6" fill-opacity="1.00"/><circle cx="1613.3" cy="810.5" r="3.6" fill-opacity="1.00"/><circle cx="1621.6" cy="819.5" r="3.6" fill-opacity="1.00"/><circle cx="1630.0" cy="828.6" r="3.6" fill-opacity="1.00"/><circle cx="1638.3" cy="837.7" r="3.6" fill-opacity="1.00"/><circle cx="1646.7" cy="846.7" r="3.6" fill-opacity="1.00"/><circle cx="1655.1" cy="855.8" r="3.6" fill-opacity="0.93"/><circle cx="1663.5" cy="864.9" r="3.6" fill-opacity="0.82"/><circle cx="1672.0" cy="873.9" r="3.6" fill-opacity="0.71"/><circle cx="1680.4" cy="883.0" r="3.6" fill-opacity="0.60"/><circle cx="1688.9" cy="892.1" r="3.6" fill-opacity="0.49"/><circle cx="1697.4" cy="901.1" r="3.6" fill-opacity="0.41"/><circle cx="1706.0" cy="910.2" r="3.6" fill-opacity="0.33"/><circle cx="1714.5" cy="919.3" r="3.6" fill-opacity="0.25"/><circle cx="1723.1" cy="928.4" r="3.6" fill-opacity="0.16"/><circle cx="1731.7" cy="937.4" r="3.6" fill-opacity="0.13"/><circle cx="1740.3" cy="946.5" r="3.6" fill-opacity="0.11"/></g>
<path d="M1174.9 290.0 L1180.8 296.0 L1186.7 302.0 L1192.6 308.0 L1198.5 314.0 L1204.4 320.0 L1210.3 326.0 L1216.2 332.0 L1222.1 338.0 L1228.1 344.0 L1234.0 350.0 L1239.9 356.0 L1245.8 362.0 L1251.7 368.0 L1257.6 374.0 L1263.5 380.0 L1269.4 386.0 L1275.3 392.0 L1281.2 398.0 L1287.1 404.0 L1293.0 410.0 L1298.9 416.0 L1304.8 422.0 L1310.7 428.0 L1316.6 434.0 L1322.5 440.0 L1328.4 446.0 L1334.3 452.0 L1340.2 458.0 L1346.1 464.0 L1352.0 470.0 L1358.0 476.0 L1363.9 482.0 L1369.8 488.0 L1375.7 494.0 L1381.6 500.0 L1387.6 506.0 L1393.5 512.0 L1399.4 518.0 L1405.3 524.0 L1411.3 530.0 L1417.2 536.0 L1423.2 542.0 L1429.1 548.0 L1435.1 554.0 L1441.0 560.0 L1447.0 566.0 L1452.9 572.0 L1458.9 578.0 L1464.9 584.0 L1470.9 590.0 L1476.8 596.0 L1482.8 602.0 L1488.8 608.0 L1494.8 614.0 L1500.8 620.0 L1506.9 626.0 L1512.9 632.0 L1518.9 638.0 L1525.0 644.0 L1531.0 650.0 L1537.1 656.0 L1543.2 662.0 L1549.2 668.0 L1555.3 674.0 L1561.4 680.0 L1567.6 686.0 L1571.6 690.0" fill="none" stroke="url(#gC)" stroke-width="26" stroke-linecap="butt" stroke-linejoin="round" stroke-opacity="0.4" filter="url(#b6)"/>
<path d="M1174.9 290.0 L1180.8 296.0 L1186.7 302.0 L1192.6 308.0 L1198.5 314.0 L1204.4 320.0 L1210.3 326.0 L1216.2 332.0 L1222.1 338.0 L1228.1 344.0 L1234.0 350.0 L1239.9 356.0 L1245.8 362.0 L1251.7 368.0 L1257.6 374.0 L1263.5 380.0 L1269.4 386.0 L1275.3 392.0 L1281.2 398.0 L1287.1 404.0 L1293.0 410.0 L1298.9 416.0 L1304.8 422.0 L1310.7 428.0 L1316.6 434.0 L1322.5 440.0 L1328.4 446.0 L1334.3 452.0 L1340.2 458.0 L1346.1 464.0 L1352.0 470.0 L1358.0 476.0 L1363.9 482.0 L1369.8 488.0 L1375.7 494.0 L1381.6 500.0 L1387.6 506.0 L1393.5 512.0 L1399.4 518.0 L1405.3 524.0 L1411.3 530.0 L1417.2 536.0 L1423.2 542.0 L1429.1 548.0 L1435.1 554.0 L1441.0 560.0 L1447.0 566.0 L1452.9 572.0 L1458.9 578.0 L1464.9 584.0 L1470.9 590.0 L1476.8 596.0 L1482.8 602.0 L1488.8 608.0 L1494.8 614.0 L1500.8 620.0 L1506.9 626.0 L1512.9 632.0 L1518.9 638.0 L1525.0 644.0 L1531.0 650.0 L1537.1 656.0 L1543.2 662.0 L1549.2 668.0 L1555.3 674.0 L1561.4 680.0 L1567.6 686.0 L1571.6 690.0" fill="none" stroke="url(#gC)" stroke-width="6" stroke-linecap="butt" stroke-linejoin="round" stroke-opacity="0.8" filter="url(#b2)"/>
<g filter="url(#b1)" fill="#fff"><circle cx="1178.3" cy="293.5" r="3.6" fill-opacity="1.00"/><circle cx="1187.2" cy="302.5" r="3.6" fill-opacity="1.00"/><circle cx="1196.2" cy="311.6" r="3.6" fill-opacity="1.00"/><circle cx="1205.1" cy="320.7" r="3.6" fill-opacity="1.00"/><circle cx="1214.0" cy="329.7" r="3.6" fill-opacity="1.00"/><circle cx="1222.9" cy="338.8" r="3.6" fill-opacity="1.00"/><circle cx="1231.9" cy="347.9" r="3.6" fill-opacity="1.00"/><circle cx="1240.8" cy="356.9" r="3.6" fill-opacity="1.00"/><circle cx="1249.7" cy="366.0" r="3.6" fill-opacity="0.99"/><circle cx="1258.6" cy="375.1" r="3.6" fill-opacity="0.94"/><circle cx="1267.6" cy="384.2" r="3.6" fill-opacity="0.89"/><circle cx="1276.5" cy="393.2" r="3.6" fill-opacity="0.84"/><circle cx="1285.4" cy="402.3" r="3.6" fill-opacity="0.78"/><circle cx="1294.3" cy="411.4" r="3.6" fill-opacity="0.69"/><circle cx="1303.3" cy="420.4" r="3.6" fill-opacity="0.60"/><circle cx="1312.2" cy="429.5" r="3.6" fill-opacity="0.50"/><circle cx="1321.1" cy="438.6" r="3.6" fill-opacity="0.44"/><circle cx="1330.0" cy="447.7" r="3.6" fill-opacity="0.37"/><circle cx="1339.0" cy="456.7" r="3.6" fill-opacity="0.29"/><circle cx="1347.9" cy="465.8" r="3.6" fill-opacity="0.21"/><circle cx="1356.8" cy="474.9" r="3.6" fill-opacity="0.15"/><circle cx="1365.8" cy="483.9" r="3.6" fill-opacity="0.14"/><circle cx="1374.7" cy="493.0" r="3.6" fill-opacity="0.14"/><circle cx="1383.7" cy="502.1" r="3.6" fill-opacity="0.13"/><circle cx="1392.6" cy="511.1" r="3.6" fill-opacity="0.13"/><circle cx="1401.6" cy="520.2" r="3.6" fill-opacity="0.12"/><circle cx="1410.6" cy="529.3" r="3.6" fill-opacity="0.24"/><circle cx="1419.5" cy="538.4" r="3.6" fill-opacity="0.48"/><circle cx="1428.5" cy="547.4" r="3.6" fill-opacity="0.69"/><circle cx="1437.5" cy="556.5" r="3.6" fill-opacity="0.88"/><circle cx="1446.5" cy="565.6" r="3.6" fill-opacity="1.00"/><circle cx="1455.5" cy="574.6" r="3.6" fill-opacity="1.00"/><circle cx="1464.6" cy="583.7" r="3.6" fill-opacity="1.00"/><circle cx="1473.6" cy="592.8" r="3.6" fill-opacity="1.00"/><circle cx="1482.7" cy="601.8" r="3.6" fill-opacity="1.00"/><circle cx="1491.7" cy="610.9" r="3.6" fill-opacity="1.00"/><circle cx="1500.8" cy="620.0" r="3.6" fill-opacity="1.00"/><circle cx="1509.9" cy="629.1" r="3.6" fill-opacity="1.00"/><circle cx="1519.1" cy="638.1" r="3.6" fill-opacity="1.00"/><circle cx="1528.2" cy="647.2" r="3.6" fill-opacity="1.00"/><circle cx="1537.4" cy="656.3" r="3.6" fill-opacity="1.00"/><circle cx="1546.5" cy="665.3" r="3.6" fill-opacity="1.00"/><circle cx="1555.7" cy="674.4" r="3.6" fill-opacity="1.00"/><circle cx="1565.0" cy="683.5" r="3.6" fill-opacity="1.00"/></g>
<g fill="#fff" filter="url(#b2)"><path d="M863.0 14.0 L869.4 20.0 L875.9 26.0 L882.5 32.0 L889.0 38.0 L895.5 44.0 L902.1 50.0 L908.7 56.0 L915.3 62.0 L922.1 68.0 L928.9 74.0 L935.7 80.0 L942.6 86.0 L949.5 92.0 L956.4 98.0 L963.3 104.0 L970.1 110.0 L976.7 116.0 L983.2 122.0 L989.6 128.0 L995.8 134.0 L1001.9 140.0 L1008.0 146.0 L1014.1 152.0 L1020.1 158.0 L1026.2 164.0 L1032.3 170.0 L1038.4 176.0 L1044.6 182.0 L1050.7 188.0 L1056.9 194.0 L1063.0 200.0 L1069.1 206.0 L1075.3 212.0 L1081.6 218.0 L1087.8 224.0 L1093.9 230.0 L1100.2 236.0 L1106.6 242.0 L1113.2 248.0 L1119.9 254.0 L1126.6 260.0 L1133.2 266.0 L1139.7 272.0 L1146.3 278.0 L1152.8 284.0 L1159.3 290.0 L1165.7 296.0 L1172.1 302.0 L1178.6 308.0 L1185.1 314.0 L1191.7 320.0 L1196.2 324.0 L1220.5 324.0 L1217.1 320.0 L1211.7 314.0 L1206.1 308.0 L1200.5 302.0 L1194.9 296.0 L1189.3 290.0 L1183.7 284.0 L1178.1 278.0 L1172.8 272.0 L1167.6 266.0 L1162.6 260.0 L1157.6 254.0 L1152.6 248.0 L1147.5 242.0 L1142.2 236.0 L1136.6 230.0 L1131.0 224.0 L1125.4 218.0 L1119.9 212.0 L1114.4 206.0 L1108.8 200.0 L1103.0 194.0 L1097.2 188.0 L1091.4 182.0 L1085.6 176.0 L1079.8 170.0 L1073.9 164.0 L1068.1 158.0 L1062.2 152.0 L1056.4 146.0 L1050.5 140.0 L1044.7 134.0 L1039.0 128.0 L1033.5 122.0 L1028.0 116.0 L1022.7 110.0 L1017.3 104.0 L1011.9 98.0 L1006.6 92.0 L1001.3 86.0 L996.0 80.0 L990.7 74.0 L985.3 68.0 L979.9 62.0 L974.6 56.0 L969.4 50.0 L964.1 44.0 L958.8 38.0 L953.5 32.0 L948.2 26.0 L942.9 20.0 L937.6 14.0 Z"/><rect x="893.2" y="34.0" width="64.3" height="11.0" rx="5.5"/><rect x="903.1" y="43.1" width="62.4" height="11.0" rx="5.5"/><rect x="913.1" y="52.1" width="60.4" height="11.0" rx="5.5"/><rect x="923.3" y="61.2" width="58.3" height="11.0" rx="5.5"/><rect x="933.5" y="70.3" width="56.1" height="11.0" rx="5.5"/><rect x="943.9" y="79.3" width="53.8" height="11.0" rx="5.5"/><rect x="954.3" y="88.4" width="51.4" height="11.0" rx="5.5"/><rect x="964.7" y="97.5" width="49.0" height="11.0" rx="5.5"/><rect x="975.0" y="106.6" width="46.9" height="11.0" rx="5.5"/><rect x="984.8" y="115.6" width="45.3" height="11.0" rx="5.5"/><rect x="994.5" y="124.7" width="44.0" height="11.0" rx="5.5"/><rect x="1003.8" y="133.8" width="43.5" height="11.0" rx="5.5"/><rect x="1013.0" y="142.8" width="43.1" height="11.0" rx="5.5"/><rect x="1022.1" y="151.9" width="42.8" height="11.0" rx="5.5"/><rect x="1031.3" y="161.0" width="42.4" height="11.0" rx="5.5"/><rect x="1040.6" y="170.1" width="42.0" height="11.0" rx="5.5"/><rect x="1049.9" y="179.1" width="41.5" height="11.0" rx="5.5"/><rect x="1059.1" y="188.2" width="40.9" height="11.0" rx="5.5"/><rect x="1068.4" y="197.3" width="40.3" height="11.0" rx="5.5"/><rect x="1077.8" y="206.3" width="39.4" height="11.0" rx="5.5"/><rect x="1087.2" y="215.4" width="38.3" height="11.0" rx="5.5"/><rect x="1096.5" y="224.5" width="37.5" height="11.0" rx="5.5"/><rect x="1106.0" y="233.5" width="36.3" height="11.0" rx="5.5"/><rect x="1115.9" y="242.6" width="34.2" height="11.0" rx="5.5"/><rect x="1126.0" y="251.7" width="31.6" height="11.0" rx="5.5"/><rect x="1136.1" y="260.8" width="29.2" height="11.0" rx="5.5"/><rect x="1145.9" y="269.8" width="27.2" height="11.0" rx="5.5"/><rect x="1155.7" y="278.9" width="25.9" height="11.0" rx="5.5"/><rect x="1165.0" y="288.0" width="25.5" height="11.0" rx="5.5"/><rect x="1174.3" y="297.0" width="25.1" height="11.0" rx="5.5"/><rect x="1183.7" y="306.1" width="24.6" height="11.0" rx="5.5"/><rect x="1193.0" y="315.2" width="24.1" height="11.0" rx="5.5"/><rect x="1202.7" y="324.2" width="22.6" height="11.0" rx="5.5"/><rect x="1213.1" y="333.3" width="19.7" height="11.0" rx="5.5"/><rect x="1223.7" y="342.4" width="16.3" height="11.0" rx="5.5"/><rect x="1234.5" y="351.4" width="12.6" height="11.0" rx="5.5"/></g><g fill="#fff" filter="url(#b15)"><path d="M1555.9 686.0 L1561.5 692.0 L1567.0 698.0 L1572.5 704.0 L1578.0 710.0 L1583.6 716.0 L1589.1 722.0 L1594.7 728.0 L1600.3 734.0 L1605.9 740.0 L1611.5 746.0 L1617.2 752.0 L1622.9 758.0 L1628.6 764.0 L1634.3 770.0 L1640.1 776.0 L1645.9 782.0 L1651.6 788.0 L1657.5 794.0 L1663.3 800.0 L1669.1 806.0 L1675.0 812.0 L1680.9 818.0 L1686.8 824.0 L1692.7 830.0 L1698.7 836.0 L1704.7 842.0 L1710.8 848.0 L1716.8 854.0 L1723.0 860.0 L1729.1 866.0 L1735.3 872.0 L1741.6 878.0 L1747.8 884.0 L1754.1 890.0 L1760.5 896.0 L1766.9 902.0 L1773.4 908.0 L1780.0 914.0 L1786.6 920.0 L1793.3 926.0 L1800.0 932.0 L1806.7 938.0 L1813.5 944.0 L1820.3 950.0 L1827.3 956.0 L1834.3 962.0 L1841.3 968.0 L1843.7 970.0 L1916.2 970.0 L1913.7 968.0 L1906.5 962.0 L1899.2 956.0 L1892.0 950.0 L1884.7 944.0 L1877.4 938.0 L1870.1 932.0 L1862.8 926.0 L1855.6 920.0 L1848.4 914.0 L1841.2 908.0 L1834.0 902.0 L1826.8 896.0 L1819.6 890.0 L1812.4 884.0 L1805.2 878.0 L1798.0 872.0 L1790.9 866.0 L1783.8 860.0 L1776.7 854.0 L1769.5 848.0 L1762.4 842.0 L1755.3 836.0 L1748.3 830.0 L1741.2 824.0 L1734.2 818.0 L1727.1 812.0 L1720.1 806.0 L1713.1 800.0 L1706.1 794.0 L1699.1 788.0 L1692.2 782.0 L1685.3 776.0 L1678.4 770.0 L1671.5 764.0 L1664.6 758.0 L1657.7 752.0 L1650.9 746.0 L1644.0 740.0 L1637.1 734.0 L1630.3 728.0 L1623.4 722.0 L1616.6 716.0 L1609.7 710.0 L1602.9 704.0 L1596.1 698.0 L1589.2 692.0 L1582.3 686.0 Z"/><rect x="1468.4" y="587.3" width="11.2" height="11.0" rx="5.5"/><rect x="1476.8" y="596.3" width="12.6" height="11.0" rx="5.5"/><rect x="1485.3" y="605.4" width="14.0" height="11.0" rx="5.5"/><rect x="1493.8" y="614.5" width="15.4" height="11.0" rx="5.5"/><rect x="1502.3" y="623.6" width="16.9" height="11.0" rx="5.5"/><rect x="1510.8" y="632.6" width="18.3" height="11.0" rx="5.5"/><rect x="1519.7" y="641.7" width="19.2" height="11.0" rx="5.5"/><rect x="1528.7" y="650.8" width="19.6" height="11.0" rx="5.5"/><rect x="1537.8" y="659.8" width="20.0" height="11.0" rx="5.5"/><rect x="1547.0" y="668.9" width="20.4" height="11.0" rx="5.5"/><rect x="1556.1" y="678.0" width="20.8" height="11.0" rx="5.5"/><rect x="1564.6" y="687.0" width="22.6" height="11.0" rx="5.5"/><rect x="1572.9" y="696.1" width="24.6" height="11.0" rx="5.5"/><rect x="1581.3" y="705.2" width="26.6" height="11.0" rx="5.5"/><rect x="1589.6" y="714.2" width="28.6" height="11.0" rx="5.5"/><rect x="1598.0" y="723.3" width="30.6" height="11.0" rx="5.5"/><rect x="1606.5" y="732.4" width="32.5" height="11.0" rx="5.5"/><rect x="1615.0" y="741.5" width="34.3" height="11.0" rx="5.5"/><rect x="1623.6" y="750.5" width="36.1" height="11.0" rx="5.5"/><rect x="1632.3" y="759.6" width="37.9" height="11.0" rx="5.5"/><rect x="1640.9" y="768.7" width="39.6" height="11.0" rx="5.5"/><rect x="1649.6" y="777.7" width="41.4" height="11.0" rx="5.5"/><rect x="1658.4" y="786.8" width="43.1" height="11.0" rx="5.5"/><rect x="1667.2" y="795.9" width="44.8" height="11.0" rx="5.5"/><rect x="1676.1" y="805.0" width="46.7" height="11.0" rx="5.5"/><rect x="1684.9" y="814.0" width="48.4" height="11.0" rx="5.5"/><rect x="1693.9" y="823.1" width="50.1" height="11.0" rx="5.5"/><rect x="1703.0" y="832.2" width="51.7" height="11.0" rx="5.5"/><rect x="1712.1" y="841.2" width="53.3" height="11.0" rx="5.5"/><rect x="1721.3" y="850.3" width="54.9" height="11.0" rx="5.5"/><rect x="1730.6" y="859.4" width="56.4" height="11.0" rx="5.5"/><rect x="1739.9" y="868.4" width="57.8" height="11.0" rx="5.5"/><rect x="1749.4" y="877.5" width="59.2" height="11.0" rx="5.5"/><rect x="1758.9" y="886.6" width="60.6" height="11.0" rx="5.5"/><rect x="1768.6" y="895.6" width="61.8" height="11.0" rx="5.5"/><rect x="1778.5" y="904.7" width="62.8" height="11.0" rx="5.5"/><rect x="1788.5" y="913.8" width="63.7" height="11.0" rx="5.5"/><rect x="1798.5" y="922.9" width="64.5" height="11.0" rx="5.5"/><rect x="1808.7" y="931.9" width="65.4" height="11.0" rx="5.5"/><rect x="1818.9" y="941.0" width="66.2" height="11.0" rx="5.5"/></g>
<linearGradient id="gR" gradientUnits="userSpaceOnUse" x1="1760" y1="875" x2="1815" y2="930"><stop offset="0" stop-color="#ff0000"/><stop offset="1" stop-color="#ff5050"/></linearGradient>
<linearGradient id="gR2" gradientUnits="userSpaceOnUse" x1="1160" y1="282" x2="1200" y2="322"><stop offset="0" stop-color="#ff0000"/><stop offset="1" stop-color="#ff7070"/></linearGradient>
<path d="M1118.2 246.0 L1124.9 252.0 L1131.7 258.0 L1138.4 264.0 L1145.0 270.0 L1151.5 276.0 L1158.0 282.0 L1164.4 288.0 L1170.8 294.0 L1177.2 300.0 L1183.6 306.0 L1190.0 312.0 L1196.6 318.0 L1203.0 324.0 L1213.7 324.0 L1208.3 318.0 L1202.7 312.0 L1197.0 306.0 L1191.2 300.0 L1185.5 294.0 L1179.7 288.0 L1174.0 282.0 L1168.4 276.0 L1163.2 270.0 L1158.2 264.0 L1153.4 258.0 L1148.5 252.0 L1143.7 246.0 Z" fill="url(#gR2)" filter="url(#b2)"/><path d="M1559.4 686.0 L1565.0 692.0 L1570.5 698.0 L1576.1 704.0 L1581.6 710.0 L1587.2 716.0 L1592.8 722.0 L1598.4 728.0 L1604.0 734.0 L1609.6 740.0 L1636.6 740.0 L1629.8 734.0 L1623.0 728.0 L1616.2 722.0 L1609.4 716.0 L1602.6 710.0 L1595.9 704.0 L1589.1 698.0 L1582.4 692.0 L1575.7 686.0 Z" fill="#ff0000" filter="url(#b15)"/>
<g filter="url(#b1)"><g fill="url(#gR2)"><path d="M878.9 20.0 L885.3 26.0 L891.7 32.0 L898.1 38.0 L904.5 44.0 L910.9 50.0 L917.4 56.0 L924.0 62.0 L930.7 68.0 L937.4 74.0 L944.1 80.0 L950.9 86.0 L957.6 92.0 L964.4 98.0 L971.2 104.0 L978.0 110.0 L984.4 116.0 L990.8 122.0 L997.1 128.0 L1003.3 134.0 L1009.4 140.0 L1015.4 146.0 L1021.4 152.0 L1027.5 158.0 L1033.5 164.0 L1039.6 170.0 L1045.7 176.0 L1051.8 182.0 L1057.9 188.0 L1064.0 194.0 L1070.1 200.0 L1076.2 206.0 L1082.4 212.0 L1088.6 218.0 L1094.8 224.0 L1101.0 230.0 L1107.3 236.0 L1113.8 242.0 L1120.4 248.0 L1127.2 254.0 L1133.9 260.0 L1136.2 262.0 L1156.6 262.0 L1155.0 260.0 L1150.1 254.0 L1145.3 248.0 L1140.4 242.0 L1135.2 236.0 L1129.8 230.0 L1124.4 224.0 L1118.9 218.0 L1113.5 212.0 L1108.0 206.0 L1102.4 200.0 L1096.6 194.0 L1090.9 188.0 L1085.1 182.0 L1079.3 176.0 L1073.6 170.0 L1067.7 164.0 L1061.9 158.0 L1056.1 152.0 L1050.3 146.0 L1044.5 140.0 L1038.7 134.0 L1033.0 128.0 L1027.5 122.0 L1022.0 116.0 L1016.7 110.0 L1011.3 104.0 L1005.9 98.0 L1000.6 92.0 L995.3 86.0 L990.0 80.0 L984.7 74.0 L979.3 68.0 L973.9 62.0 L968.6 56.0 L963.4 50.0 L958.1 44.0 L952.8 38.0 L947.5 32.0 L942.2 26.0 L936.9 20.0 Z"/><rect x="902.3" y="34.9" width="49.2" height="9.2" rx="4.6"/><rect x="912.0" y="44.0" width="47.5" height="9.2" rx="4.6"/><rect x="921.8" y="53.0" width="45.6" height="9.2" rx="4.6"/><rect x="931.8" y="62.1" width="43.7" height="9.2" rx="4.6"/><rect x="942.0" y="71.2" width="41.7" height="9.2" rx="4.6"/><rect x="952.2" y="80.2" width="39.6" height="9.2" rx="4.6"/><rect x="962.4" y="89.3" width="37.3" height="9.2" rx="4.6"/><rect x="972.7" y="98.4" width="35.1" height="9.2" rx="4.6"/><rect x="982.8" y="107.5" width="33.1" height="9.2" rx="4.6"/><rect x="992.5" y="116.5" width="31.6" height="9.2" rx="4.6"/><rect x="1002.0" y="125.6" width="30.5" height="9.2" rx="4.6"/><rect x="1011.2" y="134.7" width="30.0" height="9.2" rx="4.6"/><rect x="1020.3" y="143.7" width="29.6" height="9.2" rx="4.6"/><rect x="1029.5" y="152.8" width="29.3" height="9.2" rx="4.6"/><rect x="1038.6" y="161.9" width="28.9" height="9.2" rx="4.6"/><rect x="1047.8" y="171.0" width="28.5" height="9.2" rx="4.6"/><rect x="1057.1" y="180.0" width="28.0" height="9.2" rx="4.6"/><rect x="1066.3" y="189.1" width="27.4" height="9.2" rx="4.6"/><rect x="1075.5" y="198.2" width="26.8" height="9.2" rx="4.6"/><rect x="1084.8" y="207.2" width="25.9" height="9.2" rx="4.6"/><rect x="1094.2" y="216.3" width="24.8" height="9.2" rx="4.6"/><rect x="1103.6" y="225.4" width="23.6" height="9.2" rx="4.6"/><rect x="1113.2" y="234.4" width="22.1" height="9.2" rx="4.6"/><rect x="1123.2" y="243.5" width="19.7" height="9.2" rx="4.6"/><rect x="1133.4" y="252.6" width="16.7" height="9.2" rx="4.6"/><rect x="1143.5" y="261.6" width="13.9" height="9.2" rx="4.6"/><rect x="1153.4" y="270.7" width="11.8" height="9.2" rx="4.6"/><rect x="1163.1" y="279.8" width="10.7" height="9.2" rx="4.6"/><rect x="1172.4" y="288.9" width="10.5" height="9.2" rx="4.6"/><rect x="1181.6" y="297.9" width="10.3" height="9.2" rx="4.6"/><rect x="1190.9" y="307.0" width="10.0" height="9.2" rx="4.6"/><rect x="1200.2" y="316.1" width="9.7" height="9.2" rx="4.6"/><rect x="1209.5" y="325.3" width="9.0" height="9.0" rx="4.5"/><rect x="1219.5" y="335.3" width="7.0" height="7.0" rx="3.5"/><rect x="1229.6" y="345.6" width="4.5" height="4.5" rx="2.2"/></g><g fill="url(#gR)"><path d="M1592.8 722.0 L1598.4 728.0 L1604.0 734.0 L1609.6 740.0 L1615.3 746.0 L1621.1 752.0 L1626.8 758.0 L1632.5 764.0 L1638.3 770.0 L1644.1 776.0 L1649.9 782.0 L1655.8 788.0 L1661.6 794.0 L1667.5 800.0 L1673.4 806.0 L1679.3 812.0 L1685.3 818.0 L1691.3 824.0 L1697.3 830.0 L1703.4 836.0 L1709.5 842.0 L1715.6 848.0 L1721.8 854.0 L1727.9 860.0 L1734.2 866.0 L1740.5 872.0 L1746.8 878.0 L1753.1 884.0 L1759.5 890.0 L1765.9 896.0 L1772.4 902.0 L1779.0 908.0 L1785.7 914.0 L1792.3 920.0 L1799.1 926.0 L1805.8 932.0 L1812.6 938.0 L1819.4 944.0 L1826.3 950.0 L1833.3 956.0 L1840.3 962.0 L1843.8 965.0 L1899.6 965.0 L1896.0 962.0 L1888.7 956.0 L1881.5 950.0 L1874.3 944.0 L1867.1 938.0 L1860.0 932.0 L1852.8 926.0 L1845.7 920.0 L1838.6 914.0 L1831.5 908.0 L1824.5 902.0 L1817.4 896.0 L1810.2 890.0 L1803.1 884.0 L1796.0 878.0 L1789.0 872.0 L1781.9 866.0 L1774.9 860.0 L1767.8 854.0 L1760.8 848.0 L1753.8 842.0 L1746.8 836.0 L1739.8 830.0 L1732.9 824.0 L1725.9 818.0 L1719.0 812.0 L1712.0 806.0 L1705.1 800.0 L1698.2 794.0 L1691.3 788.0 L1684.4 782.0 L1677.5 776.0 L1670.7 770.0 L1663.8 764.0 L1657.0 758.0 L1650.2 752.0 L1643.4 746.0 L1636.6 740.0 L1629.8 734.0 L1623.0 728.0 L1616.2 722.0 Z"/><rect x="1480.6" y="599.8" width="4.0" height="4.0" rx="2.0"/><rect x="1489.1" y="608.3" width="5.2" height="5.2" rx="2.6"/><rect x="1497.6" y="616.8" width="6.4" height="6.4" rx="3.2"/><rect x="1506.1" y="625.2" width="7.6" height="7.6" rx="3.8"/><rect x="1514.6" y="633.7" width="8.8" height="8.8" rx="4.4"/><rect x="1523.4" y="642.6" width="9.5" height="9.2" rx="4.6"/><rect x="1532.4" y="651.7" width="9.8" height="9.2" rx="4.6"/><rect x="1541.5" y="660.7" width="10.1" height="9.2" rx="4.6"/><rect x="1550.5" y="669.8" width="10.4" height="9.2" rx="4.6"/><rect x="1559.6" y="678.9" width="10.7" height="9.2" rx="4.6"/><rect x="1568.1" y="687.9" width="12.3" height="9.2" rx="4.6"/><rect x="1576.4" y="697.0" width="14.1" height="9.2" rx="4.6"/><rect x="1584.9" y="706.1" width="15.9" height="9.2" rx="4.6"/><rect x="1593.3" y="715.1" width="17.8" height="9.2" rx="4.6"/><rect x="1601.7" y="724.2" width="19.6" height="9.2" rx="4.6"/><rect x="1610.3" y="733.3" width="21.3" height="9.2" rx="4.6"/><rect x="1618.8" y="742.4" width="23.0" height="9.2" rx="4.6"/><rect x="1627.5" y="751.4" width="24.6" height="9.2" rx="4.6"/><rect x="1636.2" y="760.5" width="26.3" height="9.2" rx="4.6"/><rect x="1644.9" y="769.6" width="27.9" height="9.2" rx="4.6"/><rect x="1653.7" y="778.6" width="29.5" height="9.2" rx="4.6"/><rect x="1662.6" y="787.7" width="31.1" height="9.2" rx="4.6"/><rect x="1671.5" y="796.8" width="32.6" height="9.2" rx="4.6"/><rect x="1680.4" y="805.9" width="34.2" height="9.2" rx="4.6"/><rect x="1689.4" y="814.9" width="35.7" height="9.2" rx="4.6"/><rect x="1698.5" y="824.0" width="37.1" height="9.2" rx="4.6"/><rect x="1707.7" y="833.1" width="38.4" height="9.2" rx="4.6"/><rect x="1716.9" y="842.1" width="39.8" height="9.2" rx="4.6"/><rect x="1726.2" y="851.2" width="41.2" height="9.2" rx="4.6"/><rect x="1735.6" y="860.3" width="42.4" height="9.2" rx="4.6"/><rect x="1745.1" y="869.3" width="43.5" height="9.2" rx="4.6"/><rect x="1754.7" y="878.4" width="44.7" height="9.2" rx="4.6"/><rect x="1764.3" y="887.5" width="45.8" height="9.2" rx="4.6"/><rect x="1774.1" y="896.5" width="46.8" height="9.2" rx="4.6"/><rect x="1784.1" y="905.6" width="47.5" height="9.2" rx="4.6"/><rect x="1794.2" y="914.7" width="48.1" height="9.2" rx="4.6"/><rect x="1804.3" y="923.8" width="48.7" height="9.2" rx="4.6"/><rect x="1814.6" y="932.8" width="49.3" height="9.2" rx="4.6"/><rect x="1824.9" y="941.9" width="49.8" height="9.2" rx="4.6"/></g></g>
<g fill="#ff0000" filter="url(#b1)"><circle cx="1186.8" cy="302.5" r="3.4"/><circle cx="1195.9" cy="311.6" r="3.1"/><circle cx="1205.1" cy="320.7" r="2.8"/><circle cx="1214.0" cy="329.7" r="2.5"/><circle cx="1222.9" cy="338.8" r="2.2"/><ellipse cx="1799.5" cy="901.1" rx="4.5" ry="5"/><ellipse cx="1809.8" cy="910.2" rx="4.5" ry="5"/><ellipse cx="1820.2" cy="919.3" rx="4.5" ry="5"/><ellipse cx="1830.7" cy="928.4" rx="4.5" ry="5"/><ellipse cx="1841.2" cy="937.4" rx="4.5" ry="5"/><ellipse cx="1851.8" cy="946.5" rx="4.5" ry="5"/></g>
</g>
<rect x="869.5" y="39.5" width="1028" height="907" fill="none" stroke="#000" stroke-width="3"/>
<line x1="1040.8" y1="946" x2="1040.8" y2="929" stroke="#000" stroke-width="3"/>
<line x1="1212.2" y1="946" x2="1212.2" y2="929" stroke="#000" stroke-width="3"/>
<line x1="1383.5" y1="946" x2="1383.5" y2="929" stroke="#000" stroke-width="3"/>
<line x1="1554.8" y1="946" x2="1554.8" y2="929" stroke="#000" stroke-width="3"/>
<line x1="1726.2" y1="946" x2="1726.2" y2="929" stroke="#000" stroke-width="3"/>
<line x1="870" y1="130.2" x2="887.5" y2="130.2" stroke="#000" stroke-width="3"/>
<line x1="870" y1="311.6" x2="887.5" y2="311.6" stroke="#000" stroke-width="3"/>
<line x1="870" y1="493.0" x2="887.5" y2="493.0" stroke="#000" stroke-width="3"/>
<line x1="870" y1="674.4" x2="887.5" y2="674.4" stroke="#000" stroke-width="3"/>
<line x1="870" y1="855.8" x2="887.5" y2="855.8" stroke="#000" stroke-width="3"/>
<text class="tick" transform="translate(865.5,988.2) scale(0.95,1)" text-anchor="middle">-6</text>
<text class="tick" transform="translate(1036.8,988.2) scale(0.95,1)" text-anchor="middle">-4</text>
<text class="tick" transform="translate(1208.2,988.2) scale(0.95,1)" text-anchor="middle">-2</text>
<text class="tick" transform="translate(1383.5,988.2) scale(0.95,1)" text-anchor="middle">0</text>
<text class="tick" transform="translate(1554.8,988.2) scale(0.95,1)" text-anchor="middle">2</text>
<text class="tick" transform="translate(1726.2,988.2) scale(0.95,1)" text-anchor="middle">4</text>
<text class="tick" transform="translate(1897.5,988.2) scale(0.95,1)" text-anchor="middle">6</text>
<text class="tick" transform="translate(850.3,139.8) scale(0.95,1)" text-anchor="end">40</text>
<text class="tick" transform="translate(850.3,321.2) scale(0.95,1)" text-anchor="end">20</text>
<text class="tick" transform="translate(850.3,502.6) scale(0.95,1)" text-anchor="end">0</text>
<text class="tick" transform="translate(850.3,684.0) scale(0.95,1)" text-anchor="end">-20</text>
<text class="tick" transform="translate(850.3,865.4) scale(0.95,1)" text-anchor="end">-40</text>
<text class="ax"><tspan x="1341.6" y="1046.7" font-style="italic">V</tspan><tspan x="1363.2" y="1058.5" style="font-size:22px">t</tspan><tspan x="1370.6" y="1046.7"> (V)</tspan></text>
<text class="ax" transform="translate(775,563.5) rotate(-90)"><tspan x="-0.4" y="0" font-style="italic">V</tspan><tspan x="21.4" y="13.2" style="font-size:22px">b</tspan><tspan x="33.3" y="0"> (V)</tspan></text>
<rect x="1607" y="6" width="178" height="18" fill="url(#cb)"/>
<text class="tick"><tspan x="1430.6" y="20.8" font-style="italic">R</tspan><tspan x="1451.5" y="27" style="font-size:19px">xx</tspan><tspan x="1470.2" y="20.8"> (kΩ)</tspan></text>
<text class="tick" transform="translate(1579.6,22.3) scale(0.95,1)" text-anchor="middle">0</text>
<text class="tick" transform="translate(1822,22.3) scale(0.95,1)" text-anchor="middle">50</text>
<line x1="1520.7" y1="166.7" x2="1732.6" y2="389.0" stroke="#fff" stroke-width="2.2"/><polyline points="1711.0,382.7 1732.6,389.0 1727.3,367.1" fill="none" stroke="#fff" stroke-width="2.2" stroke-linejoin="miter"/><polyline points="1542.3,173.0 1520.7,166.7 1526.0,188.6" fill="none" stroke="#fff" stroke-width="2.2" stroke-linejoin="miter"/>
<line x1="1520.0" y1="367.2" x2="1729.4" y2="166.5" stroke="#fff" stroke-width="2.2"/><polyline points="1723.1,188.1 1729.4,166.5 1707.5,171.9" fill="none" stroke="#fff" stroke-width="2.2" stroke-linejoin="miter"/><polyline points="1526.3,345.6 1520.0,367.2 1541.9,361.8" fill="none" stroke="#fff" stroke-width="2.2" stroke-linejoin="miter"/>
<text class="w" font-size="26" transform="translate(1477.2,193.5) rotate(47)" x="0" y="9.2" >D&gt;0,</text>
<text class="w" font-size="26" transform="translate(1453.7,214.4) rotate(47)" x="0" y="9.2" >non-trivial side</text>
<text class="w" font-size="28" transform="translate(1693.1,149.5) rotate(45)" x="0" y="9.9" >n</text>
<text class="w" font-size="26" transform="translate(1699.7,435.0) rotate(47)" x="0" y="9.2" >D&lt;0,</text>
<text class="w" font-size="26" transform="translate(1677.4,455.4) rotate(47)" x="0" y="9.2" >trivial side</text>
<text class="w" font-size="29.5" transform="translate(1387.2,499.5) rotate(45)" x="0" y="10.5" >CNP</text>
<text class="w" font-size="30" transform="translate(1224.0,631.0) rotate(45)" x="0" y="10.6" >FFP</text>
<text class="w" font-size="29" transform="translate(1422.8,681.2) rotate(45)" x="0" y="10.3" >1/2</text>
<text class="w" font-size="29" transform="translate(1511.8,699.0) rotate(45)" x="0" y="10.3" >1/4</text>
</svg>
</body></html>
